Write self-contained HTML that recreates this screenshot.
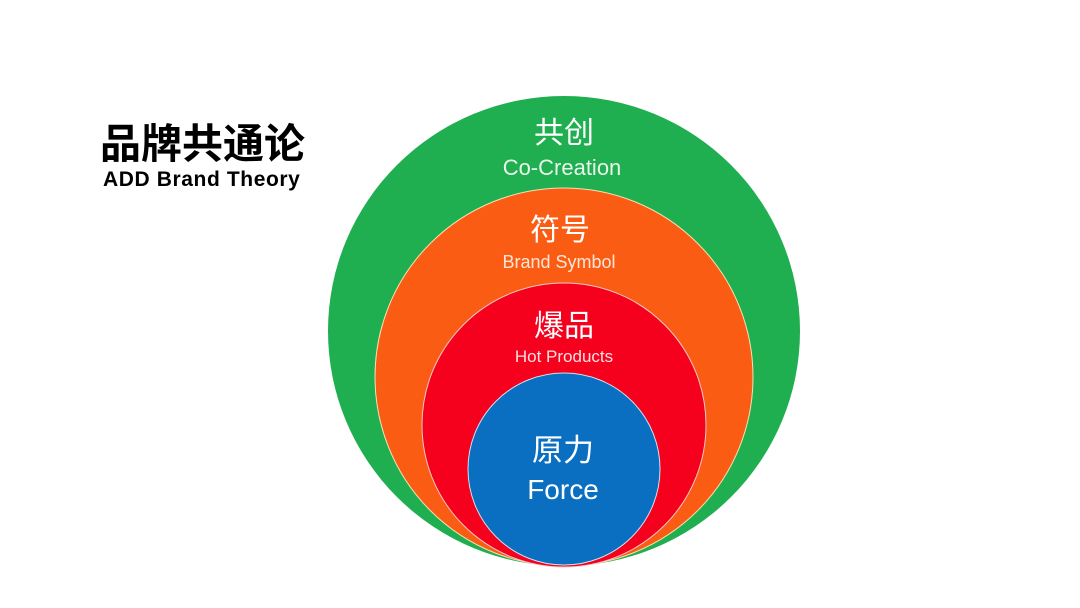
<!DOCTYPE html>
<html><head><meta charset="utf-8"><style>
html,body{margin:0;padding:0;background:#fff;}
body{width:1080px;height:608px;overflow:hidden;position:relative;}
.t{position:absolute;white-space:nowrap;font-family:"Liberation Sans","Noto Sans CJK SC",sans-serif;}
</style></head><body>
<svg width="1080" height="608" style="position:absolute;left:0;top:0">
<ellipse cx="564" cy="331" rx="236" ry="235" fill="#1fae50"/>
<circle cx="564" cy="377" r="189" fill="#fb5c14" stroke="#f3e2b0" stroke-width="1"/>
<circle cx="564" cy="425" r="142" fill="#f5001d" stroke="#f5c8c8" stroke-width="1"/>
<circle cx="564" cy="469" r="96" fill="#0a6fc0" stroke="#cfe0f0" stroke-width="1"/>
<g font-family="Liberation Sans, Noto Sans CJK SC, sans-serif" fill="#fff" text-anchor="middle">
<text x="564" y="143" font-size="30">共创</text>
<text x="562" y="175" font-size="22" fill="#e8f6ea">Co-Creation</text>
<text x="560" y="240" font-size="30">符号</text>
<text x="559" y="268" font-size="18" fill="#fde6d6">Brand Symbol</text>
<text x="564" y="336" font-size="30">爆品</text>
<text x="564" y="362" font-size="17" fill="#fde0e0">Hot Products</text>
<text x="563" y="461" font-size="31">原力</text>
<text x="563" y="499" font-size="28">Force</text>
</g>
</svg>
<div class="t" style="left:100px;top:120px;font-size:41px;font-weight:bold;line-height:48px;color:#000;">品牌共通论</div>
<div class="t" style="left:103px;top:168px;font-size:21px;font-weight:bold;line-height:24px;letter-spacing:0.6px;color:#000;">ADD Brand Theory</div>
</body></html>
